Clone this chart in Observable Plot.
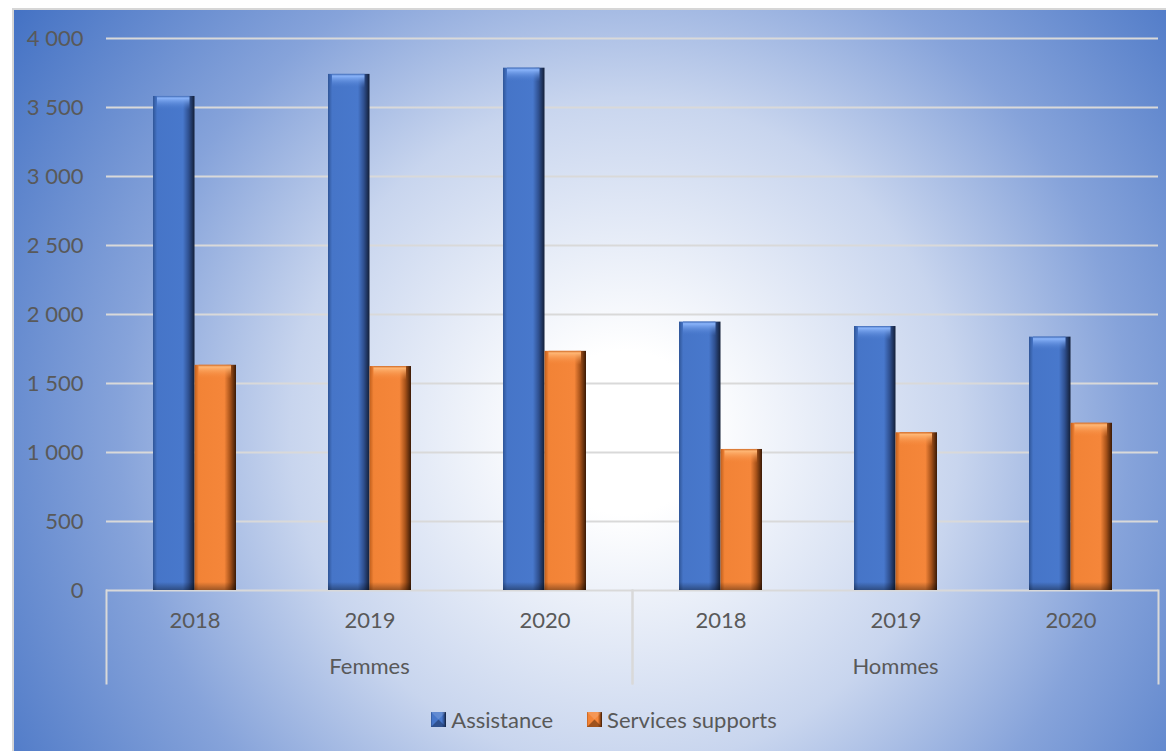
<!DOCTYPE html>
<html><head><meta charset="utf-8">
<script src="https://cdn.jsdelivr.net/npm/d3@7"></script>
<script src="https://cdn.jsdelivr.net/npm/@observablehq/plot@0.6"></script>
<style>
html,body{margin:0;padding:0;background:#fff;width:1166px;height:751px;overflow:hidden}
#card{position:absolute;left:12px;top:8px;width:1154px;height:743px;box-sizing:border-box;border-left:2px solid #d6d6d6;border-top:2px solid #d6d6d6;
background:radial-gradient(circle farthest-corner at 53% 57%, #ffffff 0%, #ffffff 11%, #c8d5ee 45%, #86a3da 68%, #4472c4 100%);font-family:Lato,sans-serif;}
#legend{display:flex;justify-content:center;align-items:center;height:38px;padding-left:28px;color:#595959;font-size:22px;}
.item{display:flex;align-items:center;}
.item svg{margin-right:5px}
.item + .item{margin-left:34px}
</style></head>
<body>
<svg width="0" height="0" style="position:absolute">
  <defs>
    <linearGradient id="gA" x1="0" y1="0" x2="1" y2="0">
      <stop offset="0" stop-color="#2f5597"/>
      <stop offset="0.1" stop-color="#4675c8"/>
      <stop offset="0.72" stop-color="#4878cc"/>
      <stop offset="0.86" stop-color="#2f5090"/>
      <stop offset="1" stop-color="#131f38"/>
    </linearGradient>
    <linearGradient id="gS" x1="0" y1="0" x2="1" y2="0">
      <stop offset="0" stop-color="#c05f1c"/>
      <stop offset="0.1" stop-color="#f28336"/>
      <stop offset="0.72" stop-color="#f5863a"/>
      <stop offset="0.86" stop-color="#a8531a"/>
      <stop offset="1" stop-color="#3a1a06"/>
    </linearGradient>
    <linearGradient id="tA" x1="0" y1="0" x2="0" y2="1">
      <stop offset="0" stop-color="#3f69b4" stop-opacity="1"/>
      <stop offset="0.15" stop-color="#8ab4fa" stop-opacity="1"/>
      <stop offset="1" stop-color="#4878cc" stop-opacity="0"/>
    </linearGradient>
    <linearGradient id="tS" x1="0" y1="0" x2="0" y2="1">
      <stop offset="0" stop-color="#d06a25" stop-opacity="1"/>
      <stop offset="0.15" stop-color="#ffb775" stop-opacity="1"/>
      <stop offset="1" stop-color="#f5863a" stop-opacity="0"/>
    </linearGradient>
    <linearGradient id="bD" x1="0" y1="0" x2="0" y2="1">
      <stop offset="0" stop-color="#000" stop-opacity="0"/>
      <stop offset="1" stop-color="#000" stop-opacity="0.35"/>
    </linearGradient>
  </defs>
</svg>
<div id="card"><div id="chart"></div><div id="legend"></div></div>
<script>
// ---- data ----
const groups = ["Femmes", "Hommes"];
const years = ["2018", "2019", "2020"];
const assistance = [3580, 3740, 3785, 1945, 1913, 1836];
const services = [1632, 1623, 1733, 1022, 1143, 1212];
const seriesNames = ["Assistance", "Services supports"];
const yTicks = [0, 500, 1000, 1500, 2000, 2500, 3000, 3500, 4000];

const rows = groups.flatMap((g, gi) => years.map((yr, yi) => ({
  group: g, year: yr, assistance: assistance[gi * 3 + yi], services: services[gi * 3 + yi]
})));

const fmt = d => d3.format(",")(d).replace(/,/g, "\u00a0");
const half = 41.5;
const txt = "#595959";
const line = "#d9d9d9";

const chart = Plot.plot({
  width: 1152, height: 690,
  marginTop: 28, marginBottom: 110, marginLeft: 92, marginRight: 8,
  style: {background: "transparent", fontFamily: "Lato, sans-serif", fontSize: "22px", color: txt, overflow: "visible"},
  fx: {domain: groups, padding: 0, label: null},
  x: {domain: years, paddingInner: 0.527, paddingOuter: 0.2635, label: null},
  y: {domain: [0, 4000], label: null},
  marks: [
    Plot.ruleY(yTicks, {stroke: line, strokeWidth: 2}),
    Plot.frame({anchor: "left", stroke: line, strokeWidth: 2, insetTop: 552, insetBottom: -93}),
    Plot.frame({anchor: "right", stroke: line, strokeWidth: 2, insetTop: 552, insetBottom: -93}),
    Plot.barY(rows, {fx: "group", x: "year", y: "assistance", fill: "url(#gA)", insetRight: half}),
    Plot.barY(rows, {fx: "group", x: "year", y: "services", fill: "url(#gS)", insetLeft: half}),
    Plot.barY(rows, {fx: "group", x: "year", y1: "assistance", y2: "assistance", insetBottom: -14, insetRight: half + 5, insetLeft: 4, fill: "url(#tA)"}),
    Plot.barY(rows, {fx: "group", x: "year", y1: "services", y2: "services", insetBottom: -14, insetLeft: half + 4, insetRight: 5, fill: "url(#tS)"}),
    Plot.barY(rows, {fx: "group", x: "year", y1: 0, y2: 0, insetTop: -8, fill: "url(#bD)"}),
    Plot.axisY(yTicks, {anchor: "left", tickSize: 0, tickPadding: 23, tickFormat: fmt, fontSize: 22, fill: txt, label: null}),
    Plot.axisX({anchor: "bottom", tickSize: 0, tickPadding: 22, fontSize: 22, fill: txt, label: null}),
    Plot.axisFx({anchor: "bottom", tickSize: 0, tickPadding: 68, fontSize: 22, fill: txt, label: null})
  ]
});
document.getElementById("chart").appendChild(chart);

// legend
const legend = document.getElementById("legend");
const fills = ["url(#gA)", "url(#gS)"];
const dark = ["#1c315c", "#5a2a08"];
seriesNames.forEach((name, i) => {
  const item = document.createElement("div");
  item.className = "item";
  item.innerHTML = `<svg width="15" height="15"><rect width="15" height="15" fill="${fills[i]}"/><path d="M0 15 L7.5 7.5 L15 15 Z" fill="${dark[i]}" opacity="0.55"/><path d="M0 0 L7.5 7.5 L15 0 Z" fill="#fff" opacity="0.15"/></svg><span>${name}</span>`;
  legend.appendChild(item);
});
</script>
</body></html>
